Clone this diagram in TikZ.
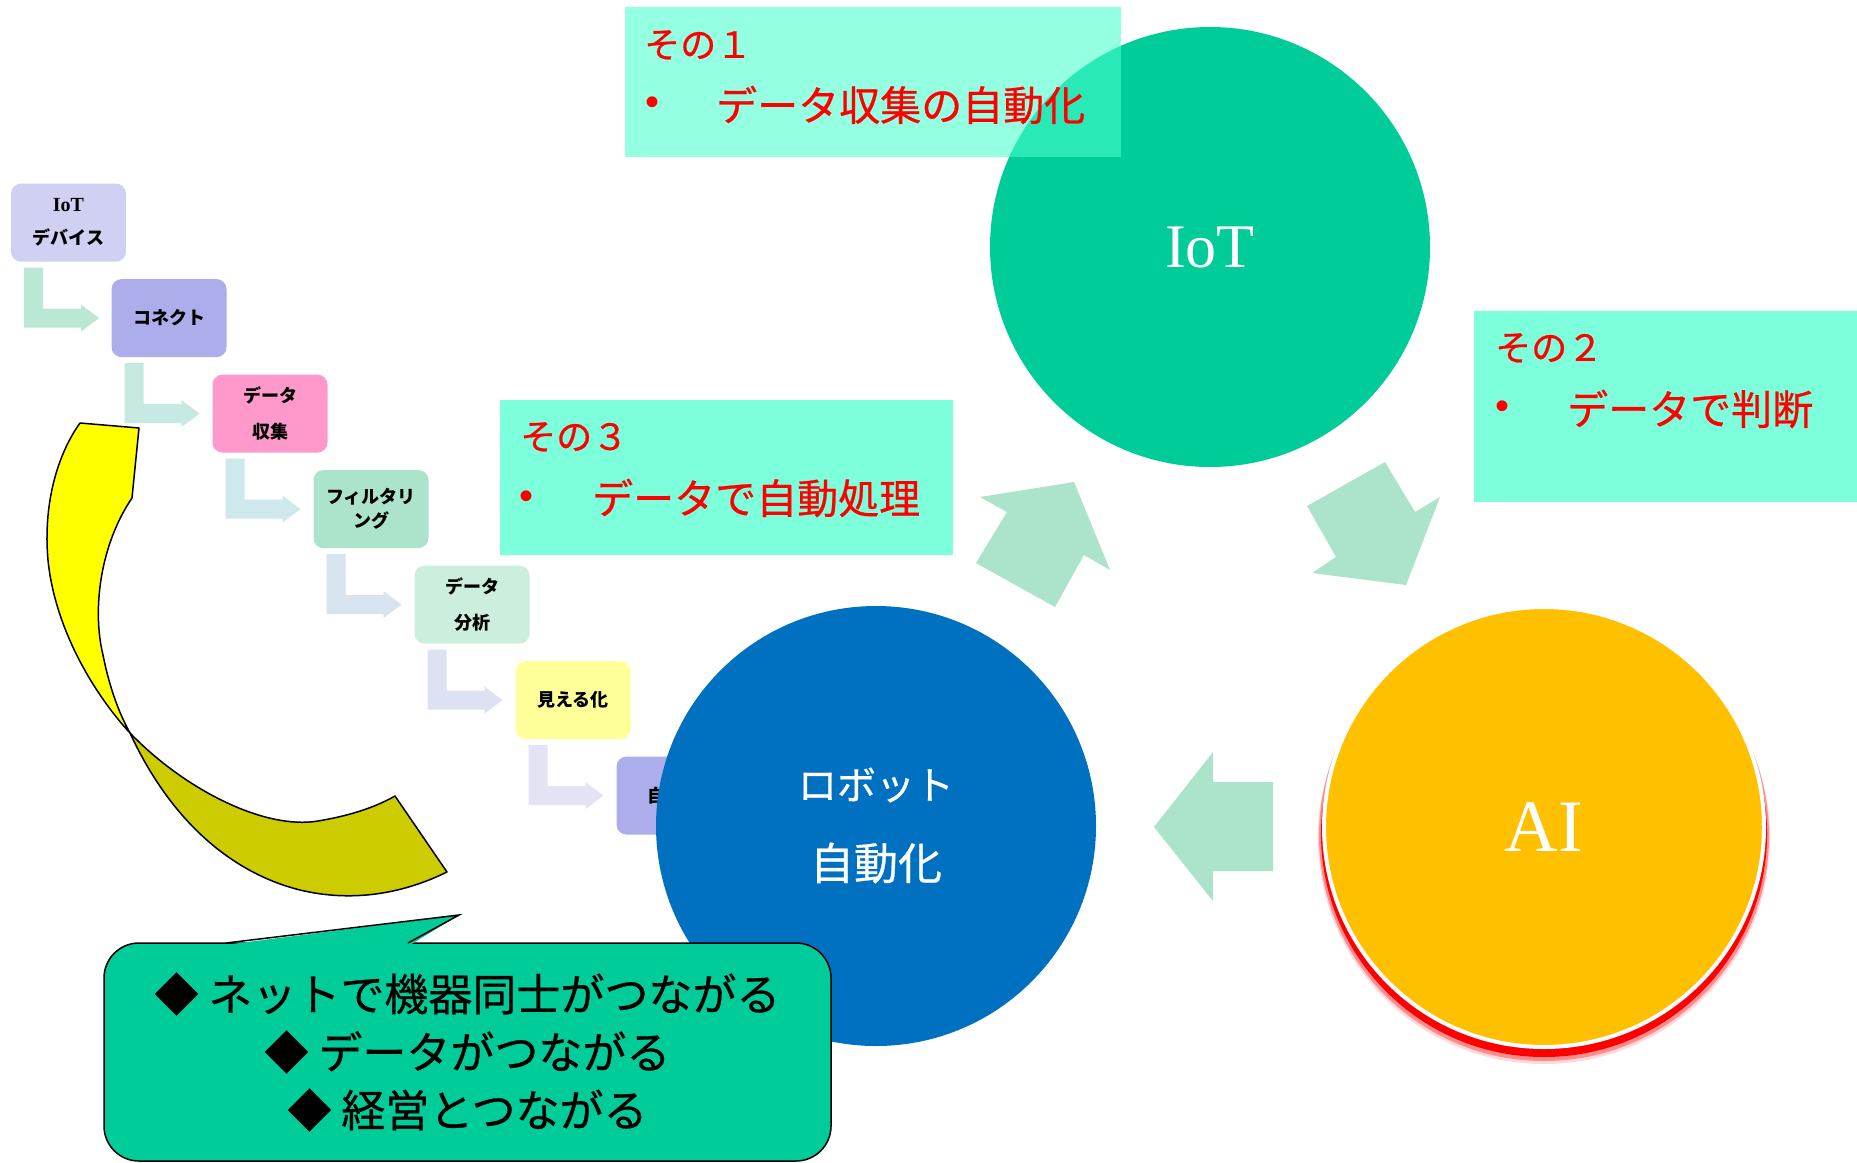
\documentclass[tikz,border=0pt]{standalone}
\usepackage{fontspec}
\newfontfamily\jp{Noto Sans CJK JP}
\newfontfamily\jpm[FakeBold=0.6]{Noto Sans CJK JP}
\newfontfamily\tnr{Liberation Serif}
\newfontfamily\arial{Liberation Sans}
\usetikzlibrary{calc}
\definecolor{iotgreen}{RGB}{0,204,153}
\definecolor{robotblue}{RGB}{0,112,192}
\definecolor{aiyellow}{RGB}{255,192,0}
\definecolor{bigarrow}{RGB}{171,227,203}
\definecolor{notefill}{RGB}{72,255,205}
\definecolor{cA}{RGB}{208,208,242}
\definecolor{cB}{RGB}{173,173,235}
\definecolor{cC}{RGB}{255,153,204}
\definecolor{cD}{RGB}{171,227,203}
\definecolor{cE}{RGB}{204,238,221}
\definecolor{cF}{RGB}{255,255,153}
\definecolor{aA}{RGB}{187,232,213}
\definecolor{aB}{RGB}{198,234,226}
\definecolor{aC}{RGB}{207,232,236}
\definecolor{aD}{RGB}{215,228,239}
\definecolor{aE}{RGB}{221,226,242}
\definecolor{aF}{RGB}{227,227,245}
\definecolor{ribbonY}{RGB}{255,255,0}
\definecolor{ribbonO}{RGB}{204,204,0}
\newcommand\mybent[2]{\fill[#2] ([shift={(13,6)}]#1.south west) -- ++(19,0) -- ++(0,41) -- ++(38,0) -- ++(0,-4) -- ++(18,13.5) -- ++(-18,13.5) -- ++(0,-4) -- ++(-57,0) -- cycle;}
\begin{document}
\begin{tikzpicture}[x=1pt,y=-1pt,
  stepbox/.style={rounded corners=10pt, minimum width=115pt, minimum height=78pt, inner sep=0pt, outer sep=0pt, align=center, text=black, font=\jp\bfseries\fontsize{18}{36}\selectfont},
  notebox/.style={fill=notefill, draw=none, inner sep=0pt, outer sep=0pt},
  notetitle/.style={anchor=west, inner sep=0pt, text=red, font=\jpm\fontsize{36}{40}\selectfont},
  noteline/.style={anchor=west, inner sep=0pt, text=red, font=\jpm\fontsize{41}{48}\selectfont},
  bulletdot/.style={inner sep=0pt, text=red, font=\arial\fontsize{40}{48}\selectfont},
  bigcircle/.style={circle, minimum size=440pt, inner sep=0pt, outer sep=0pt, text=white},
  blockarrow/.style={fill=bigarrow, draw=none},
  ribbon/.style={draw=black, line width=1.5pt, line join=round},
  callout/.style={draw=black, line width=1.5pt, fill=iotgreen, rounded corners=35pt, minimum width=727pt, minimum height=218pt, inner sep=0pt, align=center, text=black, font=\jpm\fontsize{44}{58}\selectfont}
]
\useasboundingbox (0,0) rectangle (1857,1162);
\fill[white] (0,0) rectangle (1857,1162);

% staircase
\node[stepbox, fill=cA, font=\jp\bfseries\fontsize{18}{33}\selectfont] (b1) at (68.5,222.6) {{\tnr\bfseries\fontsize{20}{33}\selectfont IoT}\\デバイス};
\node[stepbox, fill=cB] (b2) at (169,318.1) {コネクト};
\node[stepbox, fill=cC] (b3) at (270,413.6) {データ\\収集};
\node[stepbox, fill=cD, font=\jp\bfseries\fontsize{18}{24}\selectfont] (b4) at (371,509.1) {フィルタリ\\ング};
\node[stepbox, fill=cE] (b5) at (472,604.6) {データ\\分析};
\node[stepbox, fill=cF] (b6) at (573,700.1) {見える化};
\node[stepbox, fill=cB] (b7) at (674,795.6) {自動化};
\mybent{b1}{aA}
\mybent{b2}{aB}
\mybent{b3}{aC}
\mybent{b4}{aD}
\mybent{b5}{aE}
\mybent{b6}{aF}

% yellow twisted ribbon
\draw[ribbon, fill=ribbonO] (130,733) .. controls (185,790) and (265,830) .. (318,821) .. controls (348,816) and (374,808) .. (395,796) -- (447,872) .. controls (400,895) and (350,902) .. (300,890) .. controls (240,875) and (175,830) .. (130,733) -- cycle;
\draw[ribbon, fill=ribbonY] (80,423) -- (139,428) -- (132,498) .. controls (100,545) and (92,610) .. (103,655) .. controls (110,690) and (120,715) .. (130,733) .. controls (95,695) and (55,630) .. (48,560) .. controls (43,505) and (57,455) .. (80,423) -- cycle;

% note 3
\node[notebox, fill opacity=0.7, minimum width=453pt, minimum height=155pt] (n3) at (726.5,477.5) {};
\node[notetitle] (n3t) at (520,437) {その３};
\node[bulletdot] (n3d) at (526,500) {•};
\node[noteline] (n3l) at (592,498) {データで自動処理};

% note 2
\node[notebox, fill opacity=0.7, minimum width=396pt, minimum height=191pt] (n2) at (1672,406.5) {};
\node[notetitle] (n2t) at (1495,348) {その２};
\node[bulletdot] (n2d) at (1502,410) {•};
\node[noteline] (n2l) at (1567,409) {データで判断};

% block arrows
\fill[blockarrow] (1074,482) -- (1110,570) -- (1084,555) -- (1055,607) -- (976,563) -- (1007,512) -- (980,497) -- cycle;
\fill[blockarrow] (1307,506) -- (1385,462) -- (1415,512) -- (1440,497) -- (1406,585) -- (1312,573) -- (1336,557) -- cycle;
\fill[blockarrow] (1154,827) -- (1213,752) -- (1213,782) -- (1273,782) -- (1273,871) -- (1213,871) -- (1213,901) -- cycle;

% circles
\node[bigcircle, fill=iotgreen, font=\tnr\fontsize{62}{62}\selectfont] (iot) at (1210,247) {IoT};

\fill[red!15] (1544,838) circle[radius=226pt];
\fill[red!45] (1544,836) circle[radius=225pt];
\fill[red] (1544,834) circle[radius=223pt];
\node[bigcircle, fill=aiyellow, draw=white, line width=4pt, font=\tnr\fontsize{74}{74}\selectfont] (ai) at (1544,827) {AI};

\node[bigcircle, fill=robotblue] (robot) at (876,826) {};
\node[inner sep=0pt, text=white, font=\jpm\fontsize{39}{44}\selectfont] (robot1) at (876,785) {ロボット};
\node[inner sep=0pt, text=white, font=\jpm\fontsize{44}{50}\selectfont] (robot2) at (876,863) {自動化};

% note 1 (over IoT circle)
\node[notebox, fill opacity=0.58, minimum width=496pt, minimum height=150pt] (n1) at (873,82) {};
\node[notetitle] (n1t) at (644,45) {その１};
\node[bulletdot] (n1d) at (652,106) {•};
\node[noteline] (n1l) at (716,105) {データ収集の自動化};

% callout
\node[callout] (cb) at (467.5,1052) {◆ ネットで機器同士がつながる\\◆ データがつながる\\◆ 経営とつながる};
\coordinate (pl) at (226,943);
\coordinate (ptip) at (459,915);
\coordinate (pr) at (408,943);
\fill[iotgreen] ([shift={(-2,2)}]pl) -- (ptip) -- ([shift={(2,2)}]pr) -- cycle;
\draw[line width=1.5pt, line join=miter] (pl) -- (ptip) -- (pr);
\end{tikzpicture}
\end{document}
